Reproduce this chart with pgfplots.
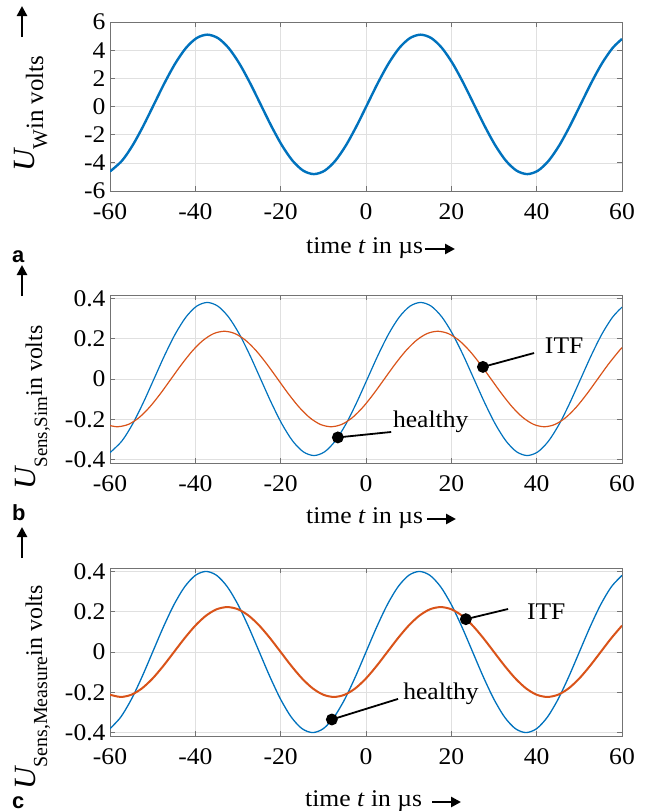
\documentclass[border=0pt]{standalone}
\usepackage{fontspec}
\setmainfont{Liberation Serif}[FakeStretch=1.07]
\newfontfamily\labfont{Liberation Serif}
\newfontfamily\panelfont{Liberation Sans}
\usepackage{pgfplots}
\pgfplotsset{compat=1.18}
\usetikzlibrary{arrows.meta}
\definecolor{mblue}{RGB}{0,114,189}
\definecolor{morange}{RGB}{217,83,25}

\pgfplotsset{
  panel/.style={
    scale only axis, width=512bp, anchor=north west,
    xmin=-60, xmax=60,
    xtick={-60,-40,...,60},
    xticklabels={\textrm{-60},\textrm{-40},\textrm{-20},\textrm{0},\textrm{20},\textrm{40},\textrm{60}},
    grid=major, grid style={black!12, line width=0.6bp},
    axis line style={black!55, line width=0.8bp},
    tick style={black!55, line width=0.8bp}, major tick length=5bp,
    tick align=inside,
    ticklabel style={font=\fontsize{24}{24}\selectfont},
    xticklabel style={yshift=-9bp},
    yticklabel style={xshift=-1bp},
  },
  note/.style={black, line width=1.8bp, mark=*, mark size=5bp,
    mark indices={1}, mark options={fill=black}},
}
\tikzset{arr/.style={line width=2.6bp, -{Triangle[width=10bp,length=10bp]}}}
\newcommand{\txtsize}{\fontsize{24}{24}\selectfont}

\begin{document}
\begin{tikzpicture}
\useasboundingbox (0,0) rectangle (645bp,-811bp);

% ---- a ----
\begin{axis}[panel, at={(110bp,-22bp)}, height=169bp,
  ymin=-6, ymax=6, ytick={-6,-4,...,6},
  yticklabels={\textrm{-6},\textrm{-4},\textrm{-2},\textrm{0},\textrm{2},\textrm{4},\textrm{6}}]
\addplot[mblue, line width=2.4bp, smooth] coordinates {
(-60,-4.612) (-57.2,-3.855) (-54.7,-2.760) (-52.2,-1.380) (-49.7,0.150)
(-47.2,1.680) (-44.7,3.060) (-42.2,4.155) (-39.7,4.858) (-37.2,5.100)
(-34.7,4.858) (-32.2,4.155) (-29.7,3.060) (-27.2,1.680) (-24.7,0.150)
(-22.2,-1.380) (-19.7,-2.760) (-17.2,-3.855) (-14.7,-4.558) (-12.2,-4.800)
(-9.7,-4.558) (-7.2,-3.855) (-4.7,-2.760) (-2.2,-1.380) (0.3,0.150)
(2.8,1.680) (5.3,3.060) (7.8,4.155) (10.3,4.858) (12.8,5.100)
(15.3,4.858) (17.8,4.155) (20.3,3.060) (22.8,1.680) (25.3,0.150)
(27.8,-1.380) (30.3,-2.760) (32.8,-3.855) (35.3,-4.558) (37.8,-4.800)
(40.3,-4.558) (42.8,-3.855) (45.3,-2.760) (47.8,-1.380) (50.3,0.150)
(52.8,1.680) (55.3,3.060) (57.8,4.155) (60,4.797)};
\end{axis}

% ---- b ----
\begin{axis}[panel, at={(110bp,-295bp)}, height=168bp,
  ymin=-0.417, ymax=0.417, ytick={-0.4,-0.2,...,0.4},
  yticklabels={\textrm{-0.4},\textrm{-0.2},\textrm{0},\textrm{0.2},\textrm{0.4}}]
\addplot[mblue, line width=1.2bp, smooth] coordinates {
(-60,-0.3656) (-57.2,-0.3074) (-54.7,-0.2234) (-52.2,-0.1174) (-49.7,0)
(-47.2,0.1174) (-44.7,0.2234) (-42.2,0.3074) (-39.7,0.3614) (-37.2,0.380)
(-34.7,0.3614) (-32.2,0.3074) (-29.7,0.2234) (-27.2,0.1174) (-24.7,0)
(-22.2,-0.1174) (-19.7,-0.2234) (-17.2,-0.3074) (-14.7,-0.3614) (-12.2,-0.380)
(-9.7,-0.3614) (-7.2,-0.3074) (-4.7,-0.2234) (-2.2,-0.1174) (0.3,0)
(2.8,0.1174) (5.3,0.2234) (7.8,0.3074) (10.3,0.3614) (12.8,0.380)
(15.3,0.3614) (17.8,0.3074) (20.3,0.2234) (22.8,0.1174) (25.3,0)
(27.8,-0.1174) (30.3,-0.2234) (32.8,-0.3074) (35.3,-0.3614) (37.8,-0.380)
(40.3,-0.3614) (42.8,-0.3074) (45.3,-0.2234) (47.8,-0.1174) (50.3,0)
(52.8,0.1174) (55.3,0.2234) (57.8,0.3074) (60,0.3567)};
\addplot[morange, line width=1.2bp, smooth] coordinates {
(-60,-0.2310) (-58.2,-0.237) (-55.7,-0.2254) (-53.2,-0.1917) (-50.7,-0.1393)
(-48.2,-0.0732) (-45.7,0) (-43.2,0.0732) (-40.7,0.1393) (-38.2,0.1917)
(-35.7,0.2254) (-33.2,0.237) (-30.7,0.2254) (-28.2,0.1917) (-25.7,0.1393)
(-23.2,0.0732) (-20.7,0) (-18.2,-0.0732) (-15.7,-0.1393) (-13.2,-0.1917)
(-10.7,-0.2254) (-8.2,-0.237) (-5.7,-0.2254) (-3.2,-0.1917) (-0.7,-0.1393)
(1.8,-0.0732) (4.3,0) (6.8,0.0732) (9.3,0.1393) (11.8,0.1917)
(14.3,0.2254) (16.8,0.237) (19.3,0.2254) (21.8,0.1917) (24.3,0.1393)
(26.8,0.0732) (29.3,0) (31.8,-0.0732) (34.3,-0.1393) (36.8,-0.1917)
(39.3,-0.2254) (41.8,-0.237) (44.3,-0.2254) (46.8,-0.1917) (49.3,-0.1393)
(51.8,-0.0732) (54.3,0) (56.8,0.0732) (59.3,0.1393) (60,0.1557)};
\addplot[note] coordinates {(27.4,0.06) (39.4,0.129)};
\addplot[note] coordinates {(-6.6,-0.29) (5.9,-0.263)};
\node[anchor=base west, inner sep=0, font=\txtsize] at (axis cs:41.9,0.129) {ITF};
\node[anchor=base west, inner sep=0, font=\txtsize] at (axis cs:6.3,-0.24) {healthy};
\end{axis}

% ---- c ----
\begin{axis}[panel, at={(110bp,-568bp)}, height=168bp,
  ymin=-0.417, ymax=0.417, ytick={-0.4,-0.2,...,0.4},
  yticklabels={\textrm{-0.4},\textrm{-0.2},\textrm{0},\textrm{0.2},\textrm{0.4}}]
\addplot[mblue, line width=1.3bp, smooth] coordinates {
(-60,-0.3804) (-57.5,-0.3236) (-55,-0.2351) (-52.5,-0.1236) (-50,0)
(-47.5,0.1236) (-45,0.2351) (-42.5,0.3236) (-40,0.3804) (-37.5,0.400)
(-35,0.3804) (-32.5,0.3236) (-30,0.2351) (-27.5,0.1236) (-25,0)
(-22.5,-0.1236) (-20,-0.2351) (-17.5,-0.3236) (-15,-0.3804) (-12.5,-0.400)
(-10,-0.3804) (-7.5,-0.3236) (-5,-0.2351) (-2.5,-0.1236) (0,0)
(2.5,0.1236) (5,0.2351) (7.5,0.3236) (10,0.3804) (12.5,0.400)
(15,0.3804) (17.5,0.3236) (20,0.2351) (22.5,0.1236) (25,0)
(27.5,-0.1236) (30,-0.2351) (32.5,-0.3236) (35,-0.3804) (37.5,-0.400)
(40,-0.3804) (42.5,-0.3236) (45,-0.2351) (47.5,-0.1236) (50,0)
(52.5,0.1236) (55,0.2351) (57.5,0.3236) (60,0.3804)};
\addplot[morange, line width=2bp, smooth] coordinates {
(-60,-0.2121) (-57.5,-0.223) (-55,-0.2121) (-52.5,-0.1804) (-50,-0.1311)
(-47.5,-0.0689) (-45,0) (-42.5,0.0689) (-40,0.1311) (-37.5,0.1804)
(-35,0.2121) (-32.5,0.223) (-30,0.2121) (-27.5,0.1804) (-25,0.1311)
(-22.5,0.0689) (-20,0) (-17.5,-0.0689) (-15,-0.1311) (-12.5,-0.1804)
(-10,-0.2121) (-7.5,-0.223) (-5,-0.2121) (-2.5,-0.1804) (0,-0.1311)
(2.5,-0.0689) (5,0) (7.5,0.0689) (10,0.1311) (12.5,0.1804)
(15,0.2121) (17.5,0.223) (20,0.2121) (22.5,0.1804) (25,0.1311)
(27.5,0.0689) (30,0) (32.5,-0.0689) (35,-0.1311) (37.5,-0.1804)
(40,-0.2121) (42.5,-0.223) (45,-0.2121) (47.5,-0.1804) (50,-0.1311)
(52.5,-0.0689) (55,0) (57.5,0.0689) (60,0.1311)};
\addplot[note] coordinates {(23.4,0.163) (33.3,0.2135)};
\addplot[note] coordinates {(-8,-0.335) (7.5,-0.233)};
\node[anchor=base west, inner sep=0, font=\txtsize] at (axis cs:37.7,0.159) {ITF};
\node[anchor=base west, inner sep=0, font=\txtsize] at (axis cs:8.7,-0.238) {healthy};
\end{axis}

% y labels
\node[rotate=90, anchor=base west, inner sep=0] at (43bp,-172bp)
  {\labfont\fontsize{25}{25}\selectfont\raisebox{9bp}{\fontsize{31}{31}\selectfont\itshape U}\raisebox{-4bp}{\fontsize{21}{21}\selectfont W}in volts};
\node[rotate=90, anchor=base west, inner sep=0] at (42bp,-490bp)
  {\labfont\fontsize{24}{24}\selectfont\raisebox{7bp}{\fontsize{31}{31}\selectfont\itshape U}\raisebox{-5bp}{\fontsize{19}{19}\selectfont Sens,Sim}in volts};
\node[rotate=90, anchor=base west, inner sep=0] at (42bp,-790bp)
  {\labfont\fontsize{24}{24}\selectfont\raisebox{7bp}{\fontsize{31}{31}\selectfont\itshape U}\raisebox{-5bp}{\fontsize{20}{20}\selectfont Sens,Measure}in volts};
\draw[arr] (22bp,-37bp) -- (22bp,-6bp);
\draw[arr] (22bp,-296bp) -- (22bp,-265bp);
\draw[arr] (22bp,-558bp) -- (22bp,-527bp);

% x labels
\node[anchor=base west, inner sep=0, font=\txtsize] at (306bp,-253bp) {time \textit{t} in µs};
\node[anchor=base west, inner sep=0, font=\txtsize] at (306bp,-523bp) {time \textit{t} in µs};
\node[anchor=base west, inner sep=0, font=\txtsize] at (305bp,-806bp) {time \textit{t} in µs};
\draw[arr] (425bp,-249bp) -- (455bp,-249bp);
\draw[arr] (427bp,-519bp) -- (456bp,-519bp);
\draw[arr] (432bp,-802bp) -- (461bp,-802bp);

% panel letters
\node[anchor=base west, inner sep=0, font=\panelfont\bfseries\fontsize{22}{22}\selectfont] at (12bp,-262bp) {a};
\node[anchor=base west, inner sep=0, font=\panelfont\bfseries\fontsize{22}{22}\selectfont] at (12bp,-520bp) {b};
\node[anchor=base west, inner sep=0, font=\panelfont\bfseries\fontsize{22}{22}\selectfont] at (12bp,-808bp) {c};
\end{tikzpicture}
\end{document}
